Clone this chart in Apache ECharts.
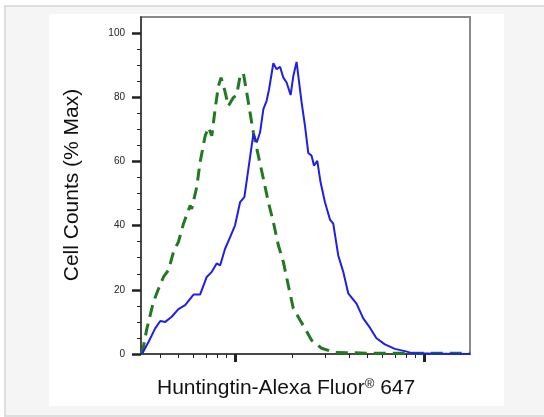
<!DOCTYPE html>
<html>
<head>
<meta charset="utf-8">
<script src="https://cdn.jsdelivr.net/npm/echarts@6.0.0/dist/echarts.min.js"></script>
<style>
  html, body { margin: 0; padding: 0; background: #fff; overflow: hidden; }
  #frame { position: absolute; left: 4px; top: 5px; width: 560px; height: 408px;
           background: #f5f5f5; border: 2px solid #dedede; }
  #panel { position: absolute; left: 49px; top: 14px; width: 455px; height: 392px; background: #fff; }
  #main { position: absolute; left: 0; top: 0; width: 544px; height: 417px; }
</style>
</head>
<body>
<div id="frame"></div>
<div id="panel"></div>
<div id="main"></div>
<script>
// fluorescence intensity (log scale) vs % of max counts
const blueX = [320, 347, 376, 400, 425, 460, 499, 542, 600, 650, 705, 750, 796, 830, 882, 938, 996, 1059, 1116, 1172,
  1245, 1297, 1351, 1407, 1464, 1508, 1589, 1654, 1724, 1795, 1868, 1962, 2027, 2110, 2243, 2338, 2434, 2533, 2608, 2716,
  2827, 2983, 3170, 3300, 3508, 3728, 3962, 4384, 4757, 5161, 5592, 6194, 6998, 7906, 8745, 12160, 17500];
const blueY = [0, 3.8, 8.0, 10.3, 10.0, 11.6, 14.0, 15.2, 18.5, 18.5, 24.0, 25.6, 28.2, 27.6, 32.8, 36.4, 40.1, 47.3, 48.9, 57.7,
  68.5, 65.9, 69.0, 76.3, 78.9, 82.5, 90.6, 88.7, 89.5, 86.1, 84.6, 80.7, 86.6, 91.0, 78.4, 71.1, 62.6, 61.8, 58.7, 60.2,
  53.5, 47.3, 41.9, 40.6, 30.7, 25.6, 18.9, 15.7, 11.1, 8.2, 4.9, 3.0, 1.6, 0.9, 0.2, 0.1, 0];

const greenX = [320, 340, 368, 392, 416, 442, 470, 499, 531, 576, 587, 624, 650, 692, 720, 750, 781, 813, 840, 875,
  918, 976, 1016, 1059, 1102, 1148, 1196, 1245, 1323, 1407, 1495, 1589, 1689, 1795, 1907, 2027, 2199, 2338, 2533, 2862,
  3369, 4124, 5262, 17500];
const greenY = [0, 8.0, 16.2, 20.4, 24.0, 26.1, 31.8, 34.9, 40.6, 46.3, 45.2, 52.0, 59.7, 68.0, 70.6, 68.0, 76.3, 83.5, 86.1, 82.5,
  77.3, 79.9, 80.7, 86.6, 87.5, 81.5, 75.2, 69.0, 61.8, 54.6, 47.3, 41.1, 33.9, 28.7, 21.4, 14.2, 10.6, 8.0, 4.3, 1.8,
  0.5, 0.4, 0.2, 0.2];

const yMajor = [0, 20, 40, 60, 80, 100];
const yMinor = [5, 10, 15, 25, 30, 35, 45, 50, 55, 65, 70, 75, 85, 90, 95];
const xMajor = [1000, 10000];
const xMinor = [400, 500, 600, 700, 800, 900, 2000, 3000, 4000, 5000, 6000, 7000, 8000, 9000];

const FONT = '"Liberation Sans", Arial, sans-serif';
const xMin = 316.2, xMax = 17500;

function zip(xs, ys) {
  return xs.map((x, i) => [x, ys[i]]);
}

const chart = echarts.init(document.getElementById('main'));

const option = {
  animation: false,
  backgroundColor: 'transparent',
  grid: {
    left: 141, top: 17, right: 74, bottom: 63,
    show: true, borderColor: '#8a8a8a', borderWidth: 2, backgroundColor: 'transparent'
  },
  xAxis: [
    {
      type: 'log', logBase: 10, min: xMin, max: xMax,
      axisLine: { show: true, lineStyle: { color: '#333', width: 1.5 } },
      axisTick: { show: true, customValues: xMajor, length: 8, lineStyle: { color: '#222', width: 3 } },
      axisLabel: { show: false },
      splitLine: { show: false }
    },
    {
      type: 'log', logBase: 10, min: xMin, max: xMax, position: 'bottom',
      axisLine: { show: false },
      axisTick: { show: true, customValues: xMinor, length: 4, lineStyle: { color: '#222', width: 1 } },
      axisLabel: { show: false },
      splitLine: { show: false }
    }
  ],
  yAxis: [
    {
      type: 'value', min: 0, max: 105,
      axisLine: { show: true, lineStyle: { color: '#333', width: 1.5 } },
      axisTick: { show: true, customValues: yMajor, length: 9, lineStyle: { color: '#222', width: 2.5 } },
      axisLabel: { customValues: yMajor, margin: 16, fontSize: 10, color: '#222', fontFamily: FONT },
      splitLine: { show: false }
    },
    {
      type: 'value', min: 0, max: 105, position: 'left',
      axisLine: { show: false },
      axisTick: { show: true, customValues: yMinor, length: 4, lineStyle: { color: '#222', width: 1 } },
      axisLabel: { show: false },
      splitLine: { show: false }
    }
  ],
  series: [
    {
      type: 'line', name: 'isotype', data: zip(greenX, greenY), showSymbol: false, symbol: 'none',
      lineStyle: { color: '#217a21', width: 3, type: [12, 7] }, z: 2
    },
    {
      type: 'line', name: 'Huntingtin', data: zip(blueX, blueY), showSymbol: false, symbol: 'none',
      lineStyle: { color: '#1f1fe6', width: 2 }, z: 3
    }
  ],
  graphic: [
    {
      type: 'text', x: 72.5, y: 185, rotation: Math.PI / 2,
      style: { text: 'Cell Counts (% Max)', align: 'center', verticalAlign: 'middle',
               font: '21px ' + FONT, fill: '#111' }
    },
    {
      type: 'text', x: 157, y: 388,
      style: {
        text: '{a|Huntingtin-Alexa Fluor}{r|®}{a| 647}',
        verticalAlign: 'middle', fill: '#111',
        rich: {
          a: { fontSize: 21, fontFamily: FONT, fill: '#111' },
          r: { fontSize: 13, fontFamily: FONT, fill: '#111', padding: [0, 0, 8, 0] }
        }
      }
    }
  ]
};

chart.setOption(option);
</script>
</body>
</html>
